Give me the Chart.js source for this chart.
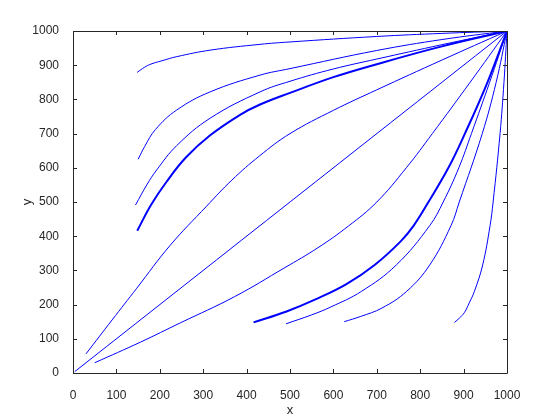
<!DOCTYPE html>
<html>
<head>
<meta charset="utf-8">
<script src="https://cdn.jsdelivr.net/npm/chart.js@4"></script>
<style>
html,body{margin:0;padding:0;background:#fff;}
#wrap{width:560px;height:420px;}
</style>
</head>
<body>
<div id="wrap"><canvas id="c" width="560" height="420"></canvas></div>
<script>
// Tick values
const xTicks = [0,100,200,300,400,500,600,700,800,900,1000];
const yTicks = [0,100,200,300,400,500,600,700,800,900,1000];

// Streamlines (x, y)
const lineA = [[148,879],[160,890],[177,902],[205,913],[239,925],[316,944],[431,961],[500,968],[700,984],[850,993],[1000,1000]];
const lineB = [[150,625],[165,662],[190,712],[239,769],[316,822],[431,871],[500,890],[700,943],[850,975],[1000,1000]];
const lineC = [[144,491],[170,550],[193,594],[239,665],[316,745],[431,822],[500,853],[600,889],[700,918],[850,960],[1000,1000]];
const lineD = [[148,416],[180,492],[216,560],[260,630],[316,695],[385,755],[431,785],[500,819],[600,865],[700,903],[850,955],[1000,1000]];
const lineE = [[30,56],[90,155],[147,248],[223,372],[308,488],[366,564],[430,635],[500,700],[600,768],[700,828],[850,915],[1000,1000]];
const lineDiag = [[4,4],[1000,1000]];
const lineL = [[50,30],[155,90],[248,147],[372,223],[488,308],[564,366],[635,430],[700,500],[768,600],[828,700],[915,850],[1000,1000]];
const lineF = [[416,148],[492,180],[560,216],[630,260],[695,316],[755,385],[785,431],[819,500],[865,600],[903,700],[955,850],[1000,1000]];
const lineG = [[491,144],[550,170],[594,193],[665,239],[745,316],[822,431],[853,500],[889,600],[918,700],[960,850],[1000,1000]];
const lineH = [[625,150],[662,165],[712,190],[769,239],[822,316],[871,431],[890,500],[943,700],[975,850],[1000,1000]];
const lineI = [[879,148],[890,160],[902,177],[913,205],[925,239],[944,316],[961,431],[968,500],[984,700],[993,850],[1000,1000]];

const thinLines = [lineA, lineB, lineC, lineE, lineDiag, lineL, lineG, lineH, lineI];
const thickLines = [lineD, lineF];

const toPts = arr => arr.map(p => ({x:p[0], y:p[1]}));
const datasets = [];
thinLines.forEach(l => datasets.push({data: toPts(l), showLine:true, borderColor:'#0000ff', borderWidth:1, pointRadius:0, tension:0.4, fill:false}));
thickLines.forEach(l => datasets.push({data: toPts(l), showLine:true, borderColor:'#0000ff', borderWidth:2, pointRadius:0, tension:0.4, fill:false}));

const axisColor = '#262626';
const boxPlugin = {
  id:'box',
  afterDraw(chart){
    const {ctx, chartArea:a, scales:{x, y}} = chart;
    ctx.save();
    ctx.strokeStyle = axisColor;
    ctx.lineWidth = 1;
    ctx.beginPath();
    ctx.rect(Math.round(a.left)+0.5, Math.round(a.top)+0.5, Math.round(a.right-a.left), Math.round(a.bottom-a.top));
    ctx.stroke();
    const tl = 4;
    ctx.beginPath();
    xTicks.forEach(v => {
      const px = Math.round(x.getPixelForValue(v))+0.5;
      ctx.moveTo(px, a.bottom); ctx.lineTo(px, a.bottom-tl);
      ctx.moveTo(px, a.top); ctx.lineTo(px, a.top+tl);
    });
    yTicks.forEach(v => {
      const py = Math.round(y.getPixelForValue(v))+0.5;
      ctx.moveTo(a.left, py); ctx.lineTo(a.left+tl, py);
      ctx.moveTo(a.right, py); ctx.lineTo(a.right-tl, py);
    });
    ctx.stroke();
    ctx.restore();
  }
};

new Chart(document.getElementById('c'), {
  type:'scatter',
  data:{datasets},
  options:{
    responsive:false,
    animation:false,
    devicePixelRatio:1,
    layout:{padding:{left:0, top:31, right:53, bottom:0}},
    plugins:{legend:{display:false}, tooltip:{enabled:false}},
    scales:{
      x:{
        type:'linear', min:0, max:1000,
        afterBuildTicks(s){ s.ticks = xTicks.map(v => ({value:v})); },
        afterFit(s){ s.height = 47; },
        grid:{display:false}, border:{display:false},
        ticks:{font:{family:'Liberation Sans', size:12}, color:axisColor, padding:7, maxRotation:0, autoSkip:false, callback:v => String(v)},
        title:{display:true, text:'x', font:{family:'Liberation Sans', size:13}, color:axisColor, padding:{top:0, bottom:2}}
      },
      y:{
        type:'linear', min:0, max:1000,
        afterBuildTicks(s){ s.ticks = yTicks.map(v => ({value:v})); },
        afterFit(s){ s.width = 73; },
        grid:{display:false}, border:{display:false},
        ticks:{font:{family:'Liberation Sans', size:12}, color:axisColor, padding:6, autoSkip:false, callback:v => String(v)},
        title:{display:true, text:'y', font:{family:'Liberation Sans', size:13}, color:axisColor, padding:{top:20, bottom:0}}
      }
    }
  },
  plugins:[boxPlugin]
});
</script>
</body>
</html>
